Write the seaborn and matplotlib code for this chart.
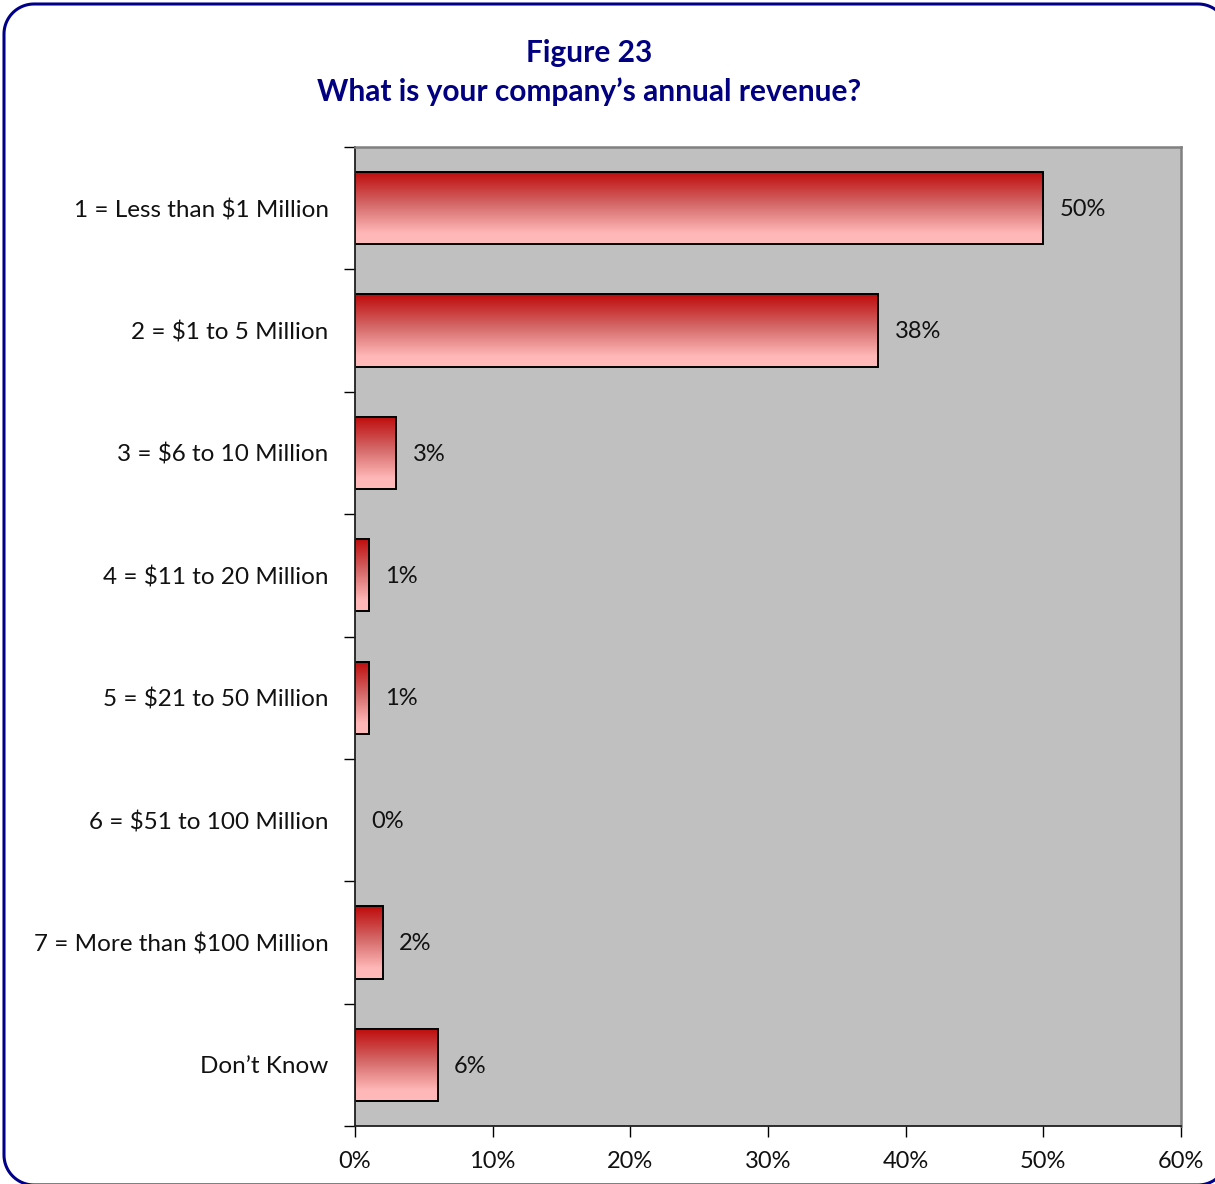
import numpy as np
import pandas as pd
import matplotlib
matplotlib.use("Agg")
import matplotlib.pyplot as plt
import seaborn as sns
from matplotlib.colors import LinearSegmentedColormap
from matplotlib.lines import Line2D
from matplotlib.transforms import IdentityTransform
from matplotlib.ticker import MultipleLocator, PercentFormatter

categories = [
    "1 = Less than $1 Million",
    "2 = $1 to 5 Million",
    "3 = $6 to 10 Million",
    "4 = $11 to 20 Million",
    "5 = $21 to 50 Million",
    "6 = $51 to 100 Million",
    "7 = More than $100 Million",
    "Don\u2019t Know",
]
shares = [50, 38, 3, 1, 1, 0, 2, 6]
value_labels = ["50%", "38%", "3%", "1%", "1%", "0%", "2%", "6%"]
title_lines = ["Figure 23", "What is your company\u2019s annual revenue?"]

df = pd.DataFrame({"category": categories, "share": shares})

sns.set_theme(style="white")
plt.rcParams["font.family"] = ["Lato", "DejaVu Sans"]
plt.rcParams["text.parse_math"] = False

W, H, DPI = 1215, 1184, 100
fig = plt.figure(figsize=(W / DPI, H / DPI), dpi=DPI)
fig.patch.set_facecolor("white")


def rounded_outline(x0, y0, x1, y1, r, n=24):
    """Open outline of a rounded rectangle in pixel units, leaving out the right side."""
    def arc(cx, cy, a0, a1):
        t = np.linspace(np.radians(a0), np.radians(a1), n)
        return cx + r * np.cos(t), cy + r * np.sin(t)
    pieces = [
        arc(x1 - r, y1 - r, 0, 90),      # top-right corner
        arc(x0 + r, y1 - r, 90, 180),    # top-left corner
        arc(x0 + r, y0 + r, 180, 270),   # bottom-left corner
        arc(x1 - r, y0 + r, 270, 360),   # bottom-right corner
    ]
    xs = np.concatenate([p[0] for p in pieces])
    ys = np.concatenate([p[1] for p in pieces])
    return xs, ys


# rounded navy frame around the figure; its right and bottom edges run off the canvas
fx, fy = rounded_outline(4, -1, 1228, H - 4, 30)
fig.add_artist(Line2D(fx, fy, transform=IdentityTransform(), color="#000088",
                      linewidth=2.2, solid_joinstyle="round", zorder=0))

ax = fig.add_axes([355 / W, 1 - 1126 / H, (1181 - 355) / W, (1126 - 147) / H])
ax.set_facecolor("#C0C0C0")

sns.barplot(data=df, x="share", y="category", orient="h", ax=ax,
            width=0.59, edgecolor="black", linewidth=1.4, color="#E06060",
            saturation=1, zorder=2)

ax.set_xlim(0, 60)
ax.set_ylim(len(categories) - 0.5, -0.5)

# vertical red-to-pink gradient inside each bar
grad_cmap = LinearSegmentedColormap.from_list(
    "bar_grad", [(0.0, "#BE0A0A"), (0.45, "#D46868"), (0.85, "#FFB7B7"), (1.0, "#FFBABA")])
grad = np.linspace(0, 1, 256).reshape(-1, 1)
for patch in ax.patches:
    w = patch.get_width()
    if w <= 0:
        patch.set_visible(False)
        continue
    x0, y0, h = patch.get_x(), patch.get_y(), patch.get_height()
    im = ax.imshow(grad, cmap=grad_cmap, aspect="auto", origin="upper",
                   extent=(x0, x0 + w, y0 + h, y0), zorder=1.9, interpolation="bilinear")
    im.set_clip_path(patch)
    patch.set_facecolor("none")
ax.set_xlim(0, 60)
ax.set_ylim(len(categories) - 0.5, -0.5)

# value labels to the right of each bar
for i, (v, lab) in enumerate(zip(shares, value_labels)):
    ax.text(v + 1.2, i + 0.01, lab, va="center", ha="left", fontsize=17, color="#111111", zorder=3)

ax.set_xlabel("")
ax.set_ylabel("")
ax.xaxis.set_major_locator(MultipleLocator(10))
ax.xaxis.set_major_formatter(PercentFormatter(decimals=0))

# category labels sit between boundary ticks
ax.set_yticks(np.arange(len(categories)))
ax.set_yticklabels(categories)
ax.set_yticks(np.arange(-0.5, len(categories) + 0.5, 1), minor=True)
ax.tick_params(axis="y", which="major", length=0, pad=19, labelsize=17.5, labelcolor="#111111")
ax.tick_params(axis="y", which="minor", length=8, width=1, color="black", direction="out", left=True)
ax.tick_params(axis="x", which="major", length=8, width=1, color="black", direction="out",
               bottom=True, pad=10, labelsize=17, labelcolor="#111111")

for side in ("top", "right"):
    ax.spines[side].set_color("#808080")
    ax.spines[side].set_linewidth(1.8)
for side in ("left", "bottom"):
    ax.spines[side].set_color("#202020")
    ax.spines[side].set_linewidth(1.3)

fig.text(589 / W, 1 - 53 / H, title_lines[0], ha="center", va="center",
         fontsize=21.5, fontweight="bold", color="#000080")
fig.text(589 / W, 1 - 92 / H, title_lines[1], ha="center", va="center",
         fontsize=21.5, fontweight="bold", color="#000080")

fig.savefig("out.png", dpi=DPI)
